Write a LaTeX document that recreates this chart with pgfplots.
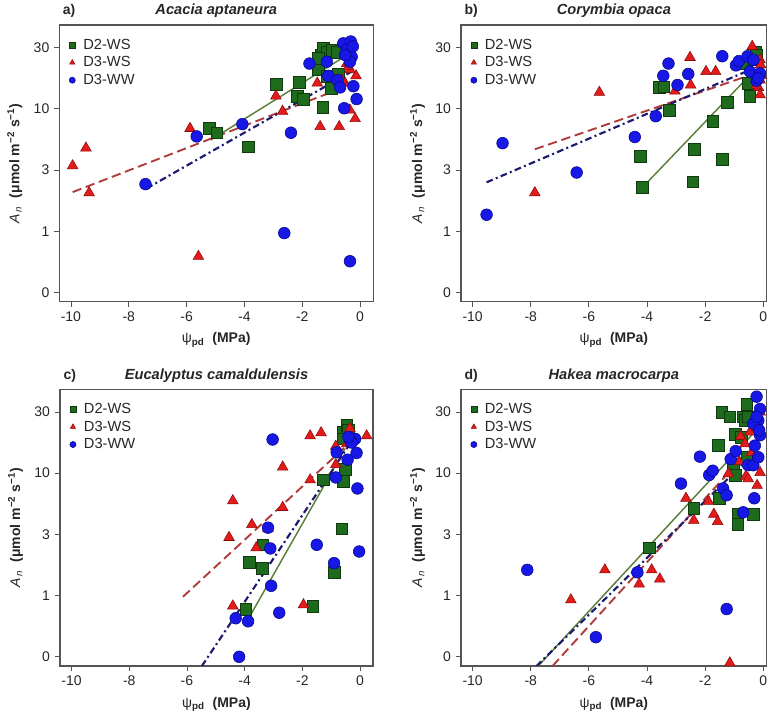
\documentclass[border=0pt]{standalone}
\usepackage{fontspec}
\setmainfont{Liberation Sans}
\usepackage{pgfplots}
\pgfplotsset{compat=1.18}

\definecolor{gfill}{HTML}{1E6B1E}
\definecolor{gdraw}{HTML}{0E3A0E}
\definecolor{rfill}{HTML}{E41B1B}
\definecolor{rdraw}{HTML}{8A0A0A}
\definecolor{bfill}{HTML}{1717E6}
\definecolor{bdraw}{HTML}{06068A}
\definecolor{gline}{HTML}{5B7F3B}
\definecolor{rline}{HTML}{B03A3A}
\definecolor{bline}{HTML}{1A1A6E}
\definecolor{frame}{HTML}{555555}

% y is drawn on an even scale with labels 0, 1, 3, 10, 30
\pgfplotsset{
  every axis title/.style={at={(0.5,1)}, anchor=base, yshift=7.5pt,
    font=\fontsize{11}{13}\selectfont\bfseries\itshape, text=black!85},
  panel/.style={
    scale only axis, height=207.5pt,
    anchor=north west,
    xmin=-10.4, ymin=-0.15, ymax=4.37,
    xtick={-10,-8,-6,-4,-2,0}, xticklabels={-10,-8,-6,-4,-2,0},
    ytick={0,1,2,3,4}, yticklabels={0,1,3,10,30},
    tick align=outside, xtick pos=left, ytick pos=left,
    major tick length=4pt,
    tick style={frame, line width=0.6pt},
    axis line style={frame, line width=0.8pt},
    tick label style={font=\fontsize{10.5}{12}\selectfont, text=black!85},
    xlabel={ψ\textsubscript{\textbf{pd}}\ \ \textbf{(MPa)}},
    ylabel={\textit{A}\textsubscript{\,\textit{n}}\ \ \textbf{(μmol m\textsuperscript{−2} s\textsuperscript{−1})}},
    label style={font=\fontsize{10.5}{13}\selectfont, text=black!85},
    xlabel style={at={(axis description cs:0.5,-0.138)}, anchor=center},
    ylabel style={at={(axis description cs:-0.142,0.5)}, anchor=center, rotate=0},
    legend style={at={(0.012,0.965)}, anchor=north west, draw=none, fill=none,
      font=\fontsize{11}{13}\selectfont, row sep=0pt, inner sep=1pt, text=black!85},
    legend cell align=left,
    legend image code/.code={\path[draw=none, fill=none] (0cm,0cm) -- (0.42cm,0cm);
      \path[##1, draw=none, fill=none, mark size=2.3pt] plot[only marks] coordinates {(0.2cm,0cm)};},
  },
  d2/.style={only marks, mark=square*, mark size=4.4pt, mark options={fill=gfill, draw=gdraw, line width=0.4pt}},
  d3ws/.style={only marks, mark=triangle*, mark size=4.6pt, mark options={fill=rfill, draw=rdraw, line width=0.4pt}},
  d3ww/.style={only marks, mark=*, mark size=4.4pt, mark options={fill=bfill, draw=bdraw, line width=0.4pt}},
  fitg/.style={gline, line width=1.1pt, forget plot},
  fitr/.style={rline, line width=1.4pt, dash pattern=on 7pt off 3.5pt, forget plot},
  fitb/.style={bline, line width=1.6pt, dash pattern=on 5pt off 2.5pt on 1.5pt off 2.5pt, forget plot},
}

\begin{document}
\begin{tikzpicture}
\path[use as bounding box] (0,0) rectangle (582.75pt,-537pt);

% ---------- a) Acacia aptaneura
\begin{axis}[panel, name=pa, at={(44.5pt,-18.75pt)}, width=235.3pt, xmax=0.45,
  title={Acacia aptaneura}]
\addplot[d2] coordinates {
 (-5.21,2.68) (-4.96,2.61) (-3.86,2.38) (-2.91,3.40) (-2.10,3.44) (-2.16,3.21)
 (-1.96,3.16) (-1.29,3.02) (-1.44,3.65) (-1.33,3.88) (-1.27,3.99) (-1.15,3.93)
 (-0.98,3.96) (-0.81,3.93) (-1.15,3.53) (-1.00,3.34) (-0.75,3.57) (-1.44,3.83)
 (-0.46,3.96)};
\addplot[d3ws] coordinates {
 (-9.94,2.07) (-9.48,2.36) (-9.37,1.63) (-5.88,2.68) (-5.59,0.59) (-2.91,3.21)
 (-2.68,2.96) (-1.48,3.42) (-1.38,2.71) (-0.72,2.71) (-0.35,2.98) (-0.17,2.84)
 (-0.14,3.54) (-0.46,3.74) (-0.35,3.64) (-0.52,3.42) (-0.40,3.69) (-0.63,3.47)};
\addplot[d3ww] coordinates {
 (-7.42,1.77) (-5.65,2.55) (-4.07,2.75) (-2.39,2.61) (-2.62,0.97) (-1.75,3.74)
 (-1.15,3.77) (-1.10,3.54) (-0.78,3.47) (-0.69,3.35) (-0.55,3.01) (-0.35,0.51)
 (-0.23,3.37) (-0.12,3.16) (-0.58,4.07) (-0.32,4.10) (-0.46,3.96) (-0.29,3.85)
 (-0.35,3.77) (-0.25,4.02) (-0.52,3.88)};
\addplot[fitg] coordinates {(-5.17,2.49) (-0.58,3.84)};
\addplot[fitr] coordinates {(-9.94,1.64) (-0.35,3.39)};
\addplot[fitb] coordinates {(-7.38,1.70) (-0.29,3.61)};
\legend{D2-WS, D3-WS, D3-WW}
\end{axis}

% ---------- b) Corymbia opaca
\begin{axis}[panel, name=pb, at={(345.75pt,-18.75pt)}, width=229.3pt, xmax=0.12,
  title={Corymbia opaca}]
\addplot[d2] coordinates {
 (-4.16,1.72) (-4.22,2.22) (-3.58,3.35) (-3.42,3.36) (-3.23,2.98) (-2.37,2.34)
 (-2.43,1.81) (-1.74,2.80) (-1.41,2.18) (-1.24,3.11) (-0.63,3.74) (-0.52,3.42)
 (-0.46,3.20) (-0.26,3.93) (-0.34,3.80) (-0.23,3.88)};
\addplot[d3ws] coordinates {
 (-7.86,1.63) (-5.64,3.27) (-3.04,3.29) (-2.52,3.84) (-2.50,3.39) (-1.97,3.61)
 (-1.64,3.61) (-0.38,4.02) (-0.11,3.80) (-0.09,3.72) (-0.11,3.47) (-0.17,3.35)
 (-0.11,3.23) (-0.23,3.39) (-0.06,3.55)};
\addplot[d3ww] coordinates {
 (-9.52,1.27) (-8.97,2.44) (-6.42,1.96) (-4.42,2.54) (-3.70,2.88) (-3.44,3.54)
 (-3.26,3.74) (-2.95,3.39) (-2.58,3.57) (-1.41,3.86) (-0.94,3.71) (-0.84,3.78)
 (-0.54,3.86) (-0.46,3.61) (-0.34,3.80) (-0.23,3.46) (-0.11,3.58) (-0.17,3.50)};
\addplot[fitg] coordinates {(-4.19,1.70) (-0.40,3.58)};
\addplot[fitr] coordinates {(-7.86,2.34) (-0.34,3.57)};
\addplot[fitb] coordinates {(-9.52,1.80) (-0.34,3.66)};
\legend{D2-WS, D3-WS, D3-WW}
\end{axis}

% ---------- c) Eucalyptus camaldulensis
\begin{axis}[panel, name=pc, at={(45pt,-291.975pt)}, width=234.75pt, xmax=0.45,
  title={Eucalyptus camaldulensis}]
\addplot[d2] coordinates {
 (-3.96,0.78) (-3.84,1.54) (-3.37,1.83) (-3.39,1.45) (-1.64,0.82) (-1.27,2.89)
 (-0.58,2.87) (-0.63,2.09) (-0.89,1.38) (-0.50,3.06) (-0.58,3.67) (-0.46,3.78)
 (-0.40,3.70) (-0.58,3.56)};
\addplot[d3ws] coordinates {
 (-4.41,2.55) (-4.54,1.95) (-4.41,0.83) (-3.75,2.16) (-3.60,1.78) (-3.19,2.09)
 (-2.68,3.10) (-2.68,2.44) (-1.73,2.89) (-1.73,3.61) (-1.35,3.66) (-1.96,0.85)
 (-0.84,3.44) (-0.84,3.14) (-0.35,3.73) (0.23,3.61) (-0.21,3.56) (-0.46,3.48)};
\addplot[d3ww] coordinates {
 (-4.19,0.00) (-4.31,0.63) (-3.88,0.58) (-3.19,2.11) (-3.11,1.77) (-3.08,1.16)
 (-3.03,3.55) (-2.80,0.72) (-1.50,1.83) (-0.90,1.53) (-0.84,2.93) (-0.81,3.34)
 (-0.43,3.22) (-0.12,3.33) (-0.09,2.75) (-0.03,1.72) (-0.35,3.54) (-0.17,3.56)
 (-0.29,3.50) (-0.40,3.59)};
\addplot[fitg] coordinates {(-3.81,0.67) (-0.52,3.40)};
\addplot[fitr] coordinates {(-6.14,0.98) (-0.35,3.50)};
\addplot[fitb] coordinates {(-5.48,-0.15) (-0.35,3.48)};
\legend{D2-WS, D3-WS, D3-WW}
\end{axis}

% ---------- d) Hakea macrocarpa
\begin{axis}[panel, name=pd, at={(345.75pt,-291.975pt)}, width=229.3pt, xmax=0.12,
  title={Hakea macrocarpa}]
\addplot[d2] coordinates {
 (-3.92,1.78) (-2.39,2.43) (-1.51,2.59) (-1.54,3.45) (-1.43,3.99) (-1.15,3.92)
 (-0.97,3.64) (-1.03,3.13) (-0.97,2.96) (-0.88,2.33) (-0.88,2.17) (-0.34,2.33)
 (-0.69,3.92) (-0.57,4.13) (-0.63,3.86) (-0.57,3.26) (-0.52,3.92) (-0.75,3.59)};
\addplot[d3ws] coordinates {
 (-6.62,0.93) (-5.45,1.42) (-4.27,1.19) (-3.84,1.42) (-3.56,1.27) (-2.39,2.23)
 (-2.66,2.59) (-1.89,2.54) (-1.70,2.33) (-1.57,2.21) (-1.20,2.99) (-0.83,3.19)
 (-1.15,-0.10) (-0.60,2.95) (-0.52,2.91) (-0.21,2.80) (-0.11,3.01) (-0.78,3.60)
 (-0.46,3.67) (-0.11,4.00) (-0.23,3.75) (-0.40,3.34) (-0.63,3.48)};
\addplot[d3ww] coordinates {
 (-8.12,1.42) (-5.76,0.32) (-4.33,1.38) (-2.83,2.83) (-2.18,3.27) (-1.86,2.97)
 (-1.74,3.04) (-1.38,2.75) (-1.26,2.64) (-1.26,0.78) (-1.12,3.23) (-0.95,3.36)
 (-0.69,2.36) (-0.31,2.59) (-0.52,3.13) (-0.34,3.13) (-0.17,3.26) (-0.11,3.62)
 (-0.23,4.25) (-0.11,4.05) (-0.17,3.86) (-0.34,3.81) (-0.29,3.45) (-0.23,3.92)
 (-0.14,3.70)};
\addplot[fitg] coordinates {(-7.74,-0.15) (-0.40,3.62)};
\addplot[fitr] coordinates {(-7.25,-0.15) (-0.23,3.51)};
\addplot[fitb] coordinates {(-7.80,-0.15) (-0.29,3.34)};
\legend{D2-WS, D3-WS, D3-WW}
\end{axis}

\foreach \p/\t in {pa/a), pb/b), pc/c), pd/d)}
  \node[anchor=base west, font=\fontsize{10.5}{12}\selectfont\bfseries, inner sep=0pt, text=black!85]
    at ([xshift=2.5pt, yshift=7.5pt]\p.north west) {\t};
\end{tikzpicture}
\end{document}
